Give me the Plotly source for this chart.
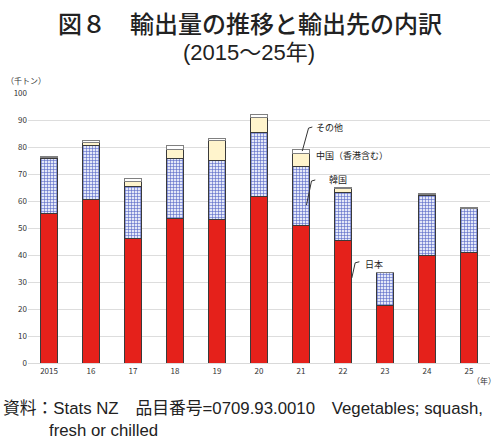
import plotly.graph_objects as go

years = ["2015", "16", "17", "18", "19", "20", "21", "22", "23", "24", "25"]
japan = [55.2, 60.4, 46.2, 53.6, 53.2, 61.6, 50.9, 45.3, 21.3, 39.8, 40.9]
korea = [20.4, 20.3, 19.3, 22.0, 21.7, 23.7, 22.0, 17.7, 12.1, 22.3, 16.4]
china = [0.4, 0.9, 1.9, 3.5, 7.4, 5.5, 4.7, 1.7, 0.1, 0.3, 0.05]
other = [0.6, 0.9, 1.1, 1.6, 0.7, 1.2, 1.3, 0.4, 0.1, 0.4, 0.2]
series_names = ["日本", "韓国", "中国（香港含む）", "その他"]

FONT = "Noto Sans CJK JP"
MIX = "Liberation Sans, Noto Sans CJK JP"
xs = list(range(len(years)))
line = dict(color="#3a3a3a", width=1)

fig = go.Figure()
fig.add_bar(x=xs, y=japan, name=series_names[0], marker=dict(color="#E5211B", line=line))
fig.add_bar(x=xs, y=korea, name=series_names[1],
            marker=dict(color="#D5DAF2", line=line,
                        pattern=dict(shape="+", fgcolor="#5567C6", bgcolor="#E4E8F8",
                                     size=3, solidity=0.35, fillmode="replace")))
fig.add_bar(x=xs, y=china, name=series_names[2], marker=dict(color="#FFF4CC", line=line))
fig.add_bar(x=xs, y=other, name=series_names[3], marker=dict(color="#FFFFFF", line=dict(color="#808080", width=1)))

fig.update_layout(
    width=500, height=441,
    margin=dict(l=28, r=10, t=93, b=78),
    barmode="stack", bargap=0.6,
    showlegend=False,
    plot_bgcolor="white", paper_bgcolor="white",
    font=dict(family=FONT, color="#333333", size=8),
)
fig.update_xaxes(range=[-0.5, 10.5], tickvals=xs, ticktext=years, showgrid=False,
                 showline=True, linecolor="#D9D9D9", ticks="", tickfont=dict(size=8, color="#333"))
fig.update_yaxes(range=[0, 100], dtick=10, showgrid=True, gridcolor="#DDDDDD", gridwidth=1,
                 zeroline=False, ticks="", tickfont=dict(size=8, color="#333"))

# Titles
fig.add_annotation(text="図８　輸出量の推移と輸出先の内訳", xref="paper", yref="paper", x=0.5, xanchor="center",
                   y=1, yanchor="middle", yshift=93 - 22, showarrow=False,
                   font=dict(family=FONT, size=24, color="#222", weight=500), xshift=-9)
fig.add_annotation(text="(2015～25年)", xref="paper", yref="paper", x=0.5, xanchor="center",
                   y=1, yanchor="middle", yshift=93 - 52, showarrow=False,
                   font=dict(family=MIX, size=22, color="#222"), xshift=-10)
fig.add_annotation(text="（千トン）", xref="paper", yref="paper", x=0, xanchor="left", xshift=-24,
                   y=1, yanchor="middle", yshift=13, showarrow=False, font=dict(size=8))
fig.add_annotation(text="（年）", xref="paper", yref="paper", x=1, xanchor="right", xshift=8,
                   y=0, yanchor="middle", yshift=-17, showarrow=False, font=dict(size=8))

# Footer
fig.add_annotation(text="資料：Stats NZ　品目番号=0709.93.0010　Vegetables; squash,",
                   xref="paper", yref="paper", x=0, xanchor="left", xshift=-27,
                   y=0, yanchor="middle", yshift=-45, showarrow=False,
                   font=dict(family=MIX, size=16.8, color="#222"))
fig.add_annotation(text="fresh or chilled",
                   xref="paper", yref="paper", x=0, xanchor="left", xshift=19,
                   y=0, yanchor="middle", yshift=-67, showarrow=False,
                   font=dict(family=MIX, size=16.8, color="#222"))

# Series labels with leader lines
labels = [
    (series_names[3], 6.30, 87.4, [(6.03, 78.5), (6.18, 87.0), (6.27, 87.4)]),
    (series_names[2], 6.30, 77.0, None),
    (series_names[1], 6.63, 68.1, [(6.13, 58.5), (6.25, 67.4), (6.34, 67.8)]),
    (series_names[0], 7.48, 36.3, [(7.21, 31.5), (7.29, 37.1), (7.39, 37.5)]),
]
for txt, tx, ty, pts in labels:
    fig.add_annotation(text=txt, x=tx, y=ty, xref="x", yref="y", xanchor="left", yanchor="middle",
                       showarrow=False, font=dict(size=9, color="#222"))
    if pts:
        path = "M " + " L ".join(f"{px},{py}" for px, py in pts)
        fig.add_shape(type="path", path=path, xref="x", yref="y", line=dict(color="#333", width=1))

fig.write_html("out.html")
